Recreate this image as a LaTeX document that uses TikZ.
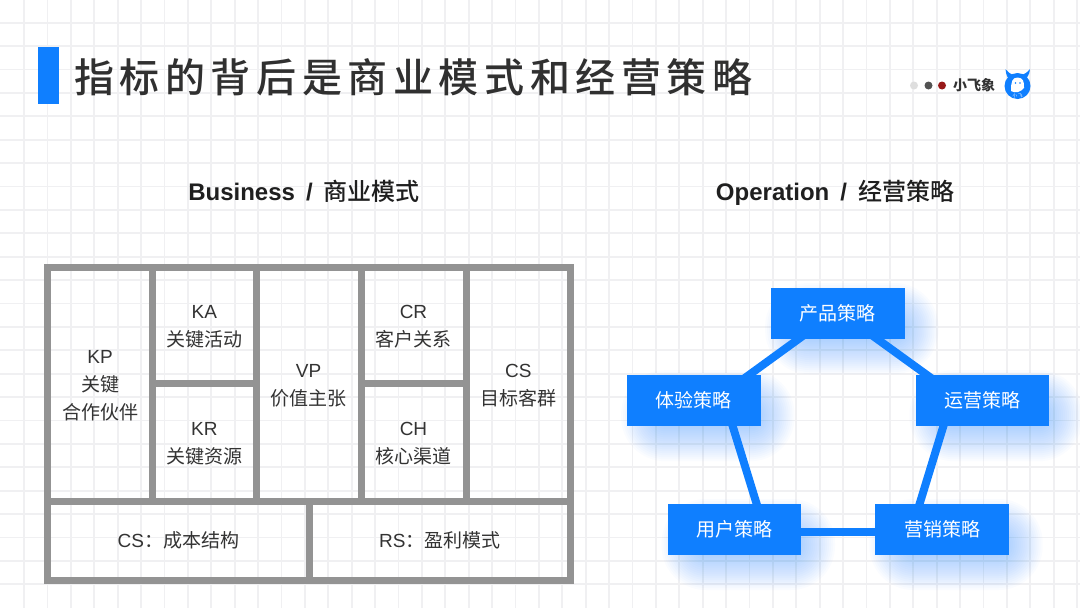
\documentclass[tikz,border=0pt]{standalone}
\usepackage{fontspec}
\usetikzlibrary{backgrounds,calc}
\setmainfont{Noto Sans CJK SC}
\newfontfamily\lat{Liberation Sans}
\newfontfamily\latm{Liberation Sans Bold}
\newfontfamily\cjkm{Noto Sans CJK SC Medium}
\newfontfamily\cjktitle[LetterSpace=14]{Noto Sans CJK SC Medium}
\definecolor{brand}{HTML}{0F7FFF}
\definecolor{framegray}{HTML}{939393}
\definecolor{gridc}{HTML}{F0F0F2}
\definecolor{ink}{HTML}{333333}
\tikzset{
  x=1pt,y=-1pt,
  cell/.style={draw=framegray,line width=7pt,inner sep=0pt,text=ink,align=center,
    font=\fontsize{19}{28}\selectfont},
  stratbox/.style={fill=brand,text=white,minimum width=133.4pt,minimum height=51pt,inner sep=0pt,
    font=\fontsize{19}{22}\selectfont},
  ring/.style={draw=brand,line width=8pt},
  gridline/.style={draw=gridc,line width=1.8pt},
  heading/.style={anchor=base,inner sep=0pt,text=black!88,font=\fontsize{24}{28}\selectfont},
  dot/.style={circle,inner sep=0pt,minimum size=8pt}
}
\newcommand{\softshadow}[2]{%
  \foreach \r in {20,18,...,-22}{
    \pgfmathsetmacro{\rc}{max(1,\r+24)}
    \fill[brand,opacity=0.019,rounded corners=\rc pt]
      ($(#1,#2)+(14,15)+(-66.7-\r,-25.5-\r)$) rectangle ($(#1,#2)+(14,15)+(66.7+\r,25.5+\r)$);
  }%
}
\newcommand{\topfix}{\rule{0pt}{16.7pt}}
\begin{document}
\begin{tikzpicture}
\useasboundingbox (0,0) rectangle (1080,608);
\begin{pgfonlayer}{background}
  \fill[white] (0,0) rectangle (1080,608);
  \foreach \k in {1,...,46}{ \draw[gridline] ({0.6+23.4*\k},0) -- ({0.6+23.4*\k},608); }
  \foreach \k in {1,...,25}{ \draw[gridline] (0,{-0.7+23.4*\k}) -- (1080,{-0.7+23.4*\k}); }
  \softshadow{837.8}{313.5}
  \softshadow{693.8}{400.7}
  \softshadow{982.2}{400.7}
  \softshadow{734.3}{529.5}
  \softshadow{942}{529.5}
\end{pgfonlayer}

% title
\fill[brand] (37.5,47) rectangle (59,103.5);
\node[anchor=west,inner sep=0pt,text=ink!95!black] (title) at (74,77)
  {\fontsize{40}{44}\cjktitle 指标的背后是商业模式和经营策略};

% logo row
\node[dot,fill=black!13] (d1) at (914,85.5) {};
\node[dot,fill=black!68] (d2) at (928.5,85.5) {};
\node[dot,fill=red!55!black!90] (d3) at (942,85.5) {};
\node[inner sep=0pt,text=ink] (brandname) at (974,85.5) {\fontsize{14}{15}\bfseries 小飞象};
\fill[brand] (1005.5,69) .. controls (1006,76) and (1008,78) .. (1010,80) -- (1024,80)
  .. controls (1027,78) and (1029.5,75) .. (1030,69) .. controls (1027,73) and (1024,74) .. (1022,75)
  -- (1013,75) .. controls (1010,74) and (1008,72) .. (1005.5,69) -- cycle;
\fill[brand] (1017.5,86) circle[radius=13];
\fill[white] (1011,91) .. controls (1011,82) and (1012,77.5) .. (1017.5,77.5)
  .. controls (1023,77.5) and (1024.5,82) .. (1024,88) .. controls (1022,89) and (1021,92) .. (1018,92)
  .. controls (1015,93) and (1013,92) .. (1011,91) -- cycle;
\fill[brand] (1015.5,83) circle[radius=0.9] (1020,83) circle[radius=0.9];
\node[inner sep=0pt,text=white] (logotext) at (1017.5,95.5) {\fontsize{4.5}{5}\selectfont 小 飞};

% headings
\node[heading] (bizhead) at (304,200) {{\latm Business\hspace{11pt}/\hspace{11pt}}{\cjkm 商业模式}};
\node[heading] (ophead) at (835,200) {{\latm Operation\hspace{11pt}/\hspace{11pt}}{\cjkm 经营策略}};

% canvas
\node[cell,minimum width=104.6pt,minimum height=234pt] (kp) at (100,384) {\topfix{\lat KP}\\关键\\合作伙伴};
\node[cell,minimum width=104pt,minimum height=116.7pt] (ka) at (204.3,325.35) {\topfix{\lat KA}\\关键活动};
\node[cell,minimum width=104pt,minimum height=117.3pt] (kr) at (204.3,442.35) {\topfix{\lat KR}\\关键资源};
\node[cell,minimum width=104.7pt,minimum height=234pt] (vp) at (308.65,384) {\topfix{\lat VP}\\价值主张};
\node[cell,minimum width=105pt,minimum height=116.7pt] (cr) at (413.5,325.35) {\topfix{\lat CR}\\客户关系};
\node[cell,minimum width=105pt,minimum height=117.3pt] (ch) at (413.5,442.35) {\topfix{\lat CH}\\核心渠道};
\node[cell,minimum width=104.5pt,minimum height=234pt] (cs) at (518.25,384) {\topfix{\lat CS}\\目标客群};
\node[cell,minimum width=261.3pt,minimum height=79pt] (cost) at (178.35,540.5) {{\lat CS}：成本结构};
\node[cell,minimum width=261.5pt,minimum height=79pt] (rev) at (439.75,540.5) {{\lat RS}：盈利模式};

% strategy ring
\node[stratbox] (prod) at (837.8,313.5) {产品策略};
\node[stratbox] (exp)  at (693.8,400.7) {体验策略};
\node[stratbox] (oper) at (982.2,400.7) {运营策略};
\node[stratbox] (user) at (734.3,529.5) {用户策略};
\node[stratbox] (mark) at (942,529.5) {营销策略};
\coordinate (vprod) at ($(prod.center)+(0,-3)$);
\coordinate (vexp)  at ($(exp.center)+(29,-6.7)$);
\coordinate (voper) at ($(oper.center)+(-29,-6.7)$);
\coordinate (vuser) at ($(user.center)+(31,2.5)$);
\coordinate (vmark) at ($(mark.center)+(-31,2.5)$);
\begin{pgfonlayer}{background}
  \draw[ring] (vprod) -- (vexp);
  \draw[ring] (vprod) -- (voper);
  \draw[ring] (vexp) -- (vuser);
  \draw[ring] (voper) -- (vmark);
  \draw[ring] (vuser) -- (vmark);
\end{pgfonlayer}
\end{tikzpicture}
\end{document}
